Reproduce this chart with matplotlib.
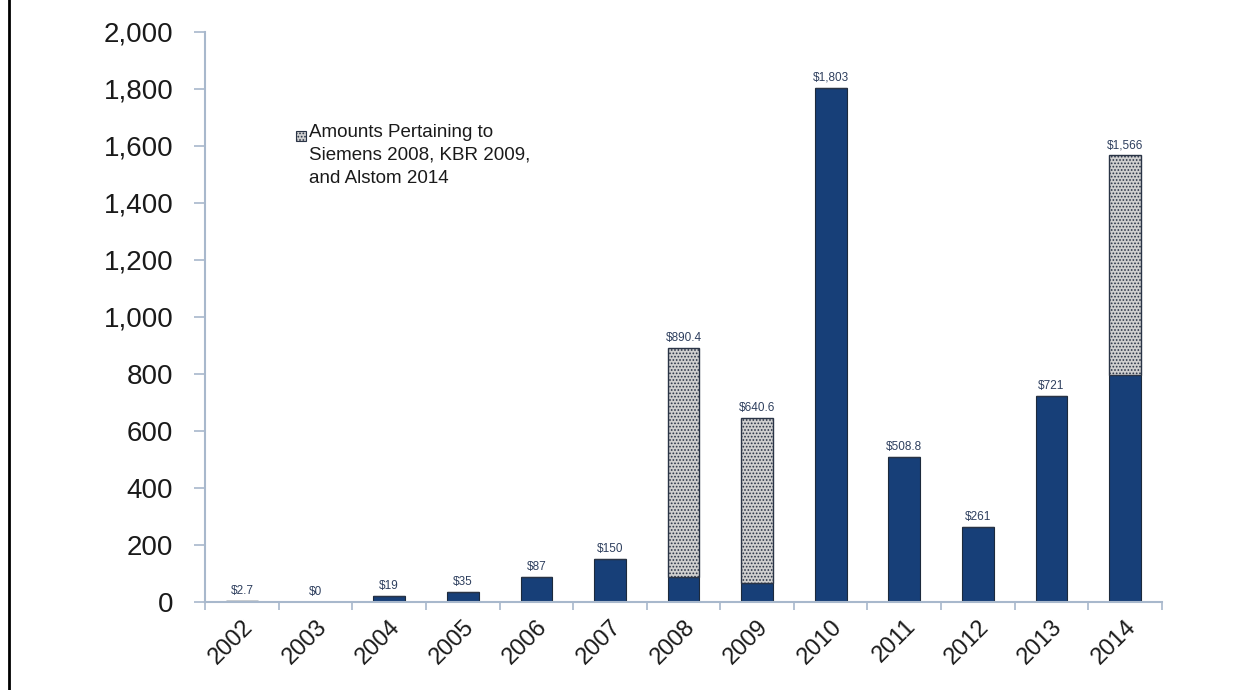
import matplotlib
matplotlib.use("Agg")
import matplotlib.pyplot as plt
from matplotlib.patches import Rectangle
from matplotlib.lines import Line2D
import numpy as np

plt.rcParams['font.family'] = ['Liberation Sans', 'DejaVu Sans']
plt.rcParams['hatch.color'] = '#6f6f6f'
plt.rcParams['hatch.linewidth'] = 0.8

years = ['2002', '2003', '2004', '2005', '2006', '2007', '2008',
         '2009', '2010', '2011', '2012', '2013', '2014']
# blue part of each bar (in $ millions)
base = [2.7, 0, 19, 35, 87, 150, 88, 67, 1803, 508.8, 261, 721, 796]
# hatched part: Siemens 2008, KBR 2009, Alstom 2014
extra = [0, 0, 0, 0, 0, 0, 802.4, 578.6, 0, 0, 0, 0, 770]
labels = ['$2.7', '$0', '$19', '$35', '$87', '$150', '$890.4',
          '$640.6', '$1,803', '$508.8', '$261', '$721', '$1,566']
legend_text = 'Amounts Pertaining to\nSiemens 2008, KBR 2009,\nand Alstom 2014'

blue = '#173f78'
grey = '#cfcfcf'
axis_col = '#a8b8cc'

fig = plt.figure(figsize=(12.36, 6.9), dpi=100)
ax = fig.add_axes([0.166, 0.128, 0.774, 0.826])

x = np.arange(len(years))
w = 0.43
ax.bar(x, base, w, color=blue, edgecolor='#1c2a3c', linewidth=0.8, zorder=2)
ax.bar(x, extra, w, bottom=base, color=grey, edgecolor='#2a3446',
       linewidth=1.0, hatch='.....', zorder=2)

totals = [b + e for b, e in zip(base, extra)]
for xi, t, lab in zip(x, totals, labels):
    ax.text(xi, t + 14, lab, ha='center', va='bottom', fontsize=8.5,
            color='#2e3f5e')

ax.set_xlim(-0.5, len(years) - 0.5)
ax.set_ylim(0, 2000)
ax.set_yticks(np.arange(0, 2001, 200))
ax.set_yticklabels(['{:,}'.format(v) for v in range(0, 2001, 200)],
                   fontsize=20, color='#1a1a1a')
ax.set_xticks(x)
ax.set_xticklabels(years, rotation=45, ha='right', rotation_mode='anchor',
                   fontsize=17, color='#1a1a1a')
ax.set_xticks(np.arange(-0.5, len(years)), minor=True)
ax.tick_params(axis='x', which='major', length=0, pad=10)
ax.tick_params(axis='x', which='minor', length=6, color=axis_col, width=1.2,
               direction='out')
ax.tick_params(axis='y', length=8, color=axis_col, width=1.2, pad=15)

for s in ['top', 'right']:
    ax.spines[s].set_visible(False)
for s in ['left', 'bottom']:
    ax.spines[s].set_color(axis_col)
    ax.spines[s].set_linewidth(1.5)

# legend drawn by hand so the swatch sits on the first line
ax.add_patch(Rectangle((0.095, 0.808), 0.0105, 0.018, transform=ax.transAxes,
                       facecolor=grey, edgecolor='#2a3446', hatch='.....',
                       linewidth=0.8, clip_on=False))
ax.text(0.109, 0.838, legend_text, transform=ax.transAxes, ha='left',
        va='top', fontsize=13.5, linespacing=1.45, color='#1a1a1a')

# black frame line at the left edge of the image
fig.add_artist(Line2D([9 / 1236, 9 / 1236], [0, 1], color='black',
                      linewidth=2, transform=fig.transFigure))

fig.savefig('out.png', dpi=100)
